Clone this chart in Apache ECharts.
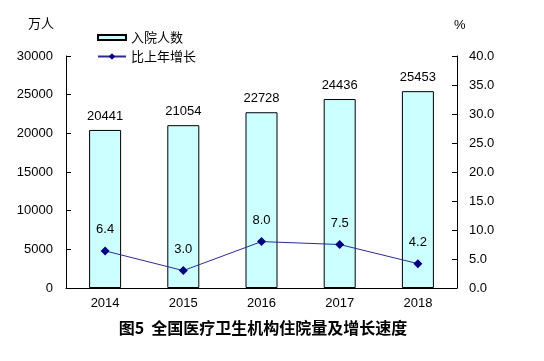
<!DOCTYPE html>
<html><head><meta charset="utf-8">
<script src="https://cdn.jsdelivr.net/npm/echarts@6/dist/echarts.min.js"></script>
<style>html,body{margin:0;padding:0;background:#fff}#c{width:544px;height:361px}</style>
</head><body><div id="c"></div>
<script>
const categories = ['2014','2015','2016','2017','2018'];
const admissions = [20441, 21054, 22728, 24436, 25453];
const growth = [6.4, 3.0, 8.0, 7.5, 4.2];
const leftTicks = {min:0, max:30000, interval:5000};
const rightTicks = {min:0, max:40, interval:5};

const font = '"Liberation Sans", Arial, sans-serif';
const cjk = '"Noto Sans CJK SC", sans-serif';
const chart = echarts.init(document.getElementById('c'));
chart.setOption({
  animation:false,
  backgroundColor:'#fff',
  title:{text:'图5  全国医疗卫生机构住院量及增长速度', left:258, textAlign:'center', top:315,
    textStyle:{fontFamily:cjk, fontSize:16, fontWeight:'bold', color:'#000'}},
  grid:{left:66, right:87, top:56, bottom:73},
  legend:[
    {data:['入院人数'], left:92, top:26, icon:'rect', itemWidth:28, itemHeight:5, itemGap:4,
     textStyle:{fontFamily:cjk, fontSize:13, color:'#000'}},
    {data:['比上年增长'], left:92, top:45, itemWidth:28, itemHeight:8,
     textStyle:{fontFamily:cjk, fontSize:13, color:'#000'}}
  ],
  xAxis:{type:'category', data:categories,
    axisLine:{lineStyle:{color:'#000', width:1}},
    axisTick:{inside:true, length:4, lineStyle:{color:'#000'}},
    axisLabel:{fontFamily:font, fontSize:13, color:'#000', margin:9}},
  yAxis:[
    {type:'value', name:'万人', nameLocation:'end', nameGap:0,
     nameTextStyle:{fontFamily:cjk, fontSize:13, color:'#000', align:'right', padding:[0,12,26,0]},
     min:leftTicks.min, max:leftTicks.max, interval:leftTicks.interval,
     axisLine:{show:true, lineStyle:{color:'#000'}},
     axisTick:{show:true, inside:true, length:5, lineStyle:{color:'#000'}},
     splitLine:{show:false},
     axisLabel:{fontFamily:font, fontSize:13, color:'#000', margin:13, formatter:v=>String(v)}},
    {type:'value', name:'%', nameLocation:'end', nameGap:0,
     nameTextStyle:{fontFamily:font, fontSize:13, color:'#000', align:'left', padding:[0,0,24,-3]},
     min:rightTicks.min, max:rightTicks.max, interval:rightTicks.interval,
     axisLine:{show:true, lineStyle:{color:'#000'}},
     axisTick:{show:true, inside:true, length:5, lineStyle:{color:'#000'}},
     splitLine:{show:false},
     axisLabel:{fontFamily:font, fontSize:13, color:'#000', margin:12,
       formatter:v=>v.toFixed(1)}}
  ],
  series:[
    {name:'入院人数', type:'bar', data:admissions, barWidth:32,
     itemStyle:{color:'#CCFFFF', borderColor:'#000', borderWidth:1},
     label:{show:true, position:'top', distance:7, fontFamily:font, fontSize:13, color:'#000'}},
    {name:'比上年增长', type:'line', yAxisIndex:1, data:growth,
     symbol:'diamond', symbolSize:9,
     lineStyle:{color:'#2B2B95', width:1},
     itemStyle:{color:'#000080'},
     label:{show:true, position:'top', distance:10, fontFamily:font, fontSize:13, color:'#000',
       formatter:p=>p.value.toFixed(1)}}
  ]
});
</script></body></html>
